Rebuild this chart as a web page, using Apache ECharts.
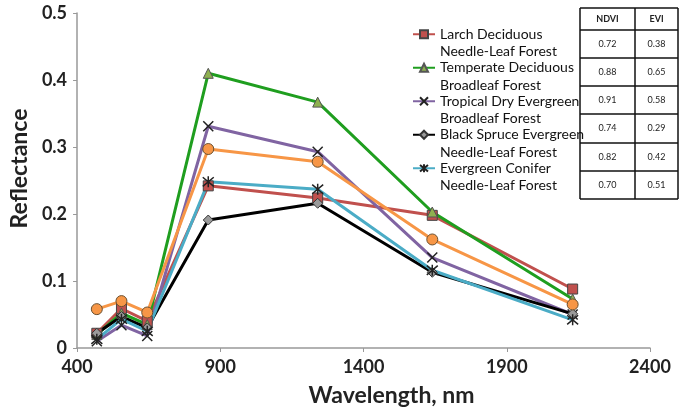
<!DOCTYPE html>
<html><head><meta charset="utf-8">
<script src="https://cdn.jsdelivr.net/npm/echarts@6/dist/echarts.min.js"></script>
<style>html,body{margin:0;padding:0;background:#fff}#c{width:679px;height:416px}</style>
</head><body><div id="c"></div><script>
const wavelengths = [469, 555, 645, 858, 1240, 1640, 2130];
const larch = [0.022, 0.059, 0.040, 0.242, 0.224, 0.198, 0.088];
const temperate = [0.020, 0.052, 0.035, 0.410, 0.367, 0.203, 0.073];
const tropical = [0.010, 0.034, 0.018, 0.331, 0.293, 0.135, 0.050];
const blackSpruce = [0.022, 0.047, 0.030, 0.191, 0.216, 0.113, 0.051];
const conifer = [0.013, 0.043, 0.025, 0.248, 0.237, 0.116, 0.042];
const orange = [0.058, 0.070, 0.053, 0.297, 0.278, 0.162, 0.065];
const seriesNames = ['Larch Deciduous', 'Temperate Deciduous', 'Tropical Dry Evergreen', 'Black Spruce Evergreen', 'Evergreen Conifer', 'Other'];
const seriesSubNames = ['Needle-Leaf Forest', 'Broadleaf Forest', 'Broadleaf Forest', 'Needle-Leaf Forest', 'Needle-Leaf Forest', ''];
const tableHeader = ['NDVI', 'EVI'];
const ndvi = ['0.72', '0.88', '0.91', '0.74', '0.82', '0.70'];
const evi = ['0.38', '0.65', '0.58', '0.29', '0.42', '0.51'];
const xAxisTitle = 'Wavelength, nm';
const yAxisTitle = 'Reflectance';

const chart = echarts.init(document.getElementById('c'));
const pts = arr => wavelengths.map((w, i) => [w, arr[i]]);
const xPath = 'path://M0,0L10,10M10,0L0,10';
const starPath = 'path://M0,0L10,10M10,0L0,10M5,-1L5,11';
const styles = [
  {data: larch, line: '#c0504d', symbol: 'rect', size: 10, fill: '#c0504d', border: '#444', bw: 1},
  {data: temperate, line: '#1f9e1f', symbol: 'triangle', size: 10, fill: '#8fb050', border: '#555', bw: 1},
  {data: tropical, line: '#8064a2', symbol: xPath, size: 10, fill: 'rgba(0,0,0,0)', border: '#222', bw: 1.5},
  {data: blackSpruce, line: '#000000', symbol: 'diamond', size: 10, fill: '#9a9a9a', border: '#333', bw: 1},
  {data: conifer, line: '#4bacc6', symbol: starPath, size: 11, fill: 'rgba(0,0,0,0)', border: '#222', bw: 1.5},
  {data: orange, line: '#f79646', symbol: 'circle', size: 11, fill: '#f79646', border: '#6a5030', bw: 1}
];
const series = styles.map((s, i) => ({
  name: seriesNames[i], type: 'line', data: pts(s.data),
  symbol: s.symbol, symbolSize: s.size, showSymbol: true,
  lineStyle: {color: s.line, width: 3},
  itemStyle: {color: s.fill, borderColor: s.border, borderWidth: s.bw},
  emphasis: {disabled: true}, animation: false
}));

// table graphic
const tX = [580, 635, 678];
const tY = [8, 30, 58, 86, 114, 143, 171, 199];
const g = [];
tX.forEach(x => g.push({type: 'line', shape: {x1: x, y1: tY[0], x2: x, y2: tY[tY.length - 1]}, style: {stroke: '#111', lineWidth: 1.5}}));
tY.forEach(y => g.push({type: 'line', shape: {x1: tX[0], y1: y, x2: tX[2], y2: y}, style: {stroke: '#111', lineWidth: 1.5}}));
tableHeader.forEach((h, j) => g.push({type: 'text', x: (tX[j] + tX[j + 1]) / 2, y: (tY[0] + tY[1]) / 2,
  style: {text: h, font: 'bold 9px Lato', fill: '#222', align: 'center', verticalAlign: 'middle'}}));
ndvi.forEach((v, i) => {
  [v, evi[i]].forEach((t, j) => g.push({type: 'text', x: (tX[j] + tX[j + 1]) / 2, y: (tY[i + 1] + tY[i + 2]) / 2,
    style: {text: t, font: '9px Lato', fill: '#222', align: 'center', verticalAlign: 'middle'}}));
});

chart.setOption({
  animation: false,
  grid: {left: 75, right: 29, top: 13, bottom: 68},
  xAxis: {type: 'value', min: 400, max: 2400, interval: 500,
    name: xAxisTitle, nameLocation: 'middle', nameGap: 36,
    nameTextStyle: {fontFamily: 'Lato', fontWeight: 'bold', fontSize: 23, color: '#222', padding: [0, 0, 0, 56]},
    axisLine: {lineStyle: {color: '#999', width: 1.5}},
    axisTick: {length: 4, lineStyle: {color: '#999'}},
    splitLine: {show: false},
    axisLabel: {fontFamily: 'Lato', fontWeight: 'bold', fontSize: 18, color: '#222', margin: 10,
      formatter: v => String(v)}},
  yAxis: {type: 'value', min: 0, max: 0.5, interval: 0.1,
    name: yAxisTitle, nameLocation: 'middle', nameGap: 46,
    nameTextStyle: {fontFamily: 'Lato', fontWeight: 'bold', fontSize: 23, color: '#222', padding: [0, 0, 0, 24]},
    axisLine: {show: true, lineStyle: {color: '#999', width: 1.5}},
    axisTick: {show: true, length: 4, lineStyle: {color: '#999'}},
    splitLine: {show: false},
    axisLabel: {fontFamily: 'Lato', fontWeight: 'bold', fontSize: 18, color: '#222', margin: 10,
      formatter: v => v === 0 ? '0' : v.toFixed(1)}},
  legend: {data: seriesNames.slice(0, 5), orient: 'vertical', left: 412, top: 8, padding: 0,
    itemWidth: 22, itemHeight: 10, itemGap: -19, selectedMode: false,
    formatter: name => ' \n' + name + '\n' + seriesSubNames[seriesNames.indexOf(name)],
    textStyle: {fontFamily: 'Lato', fontSize: 14, color: '#111', lineHeight: 17.5}},
  graphic: g,
  series: series
});
</script></body></html>
